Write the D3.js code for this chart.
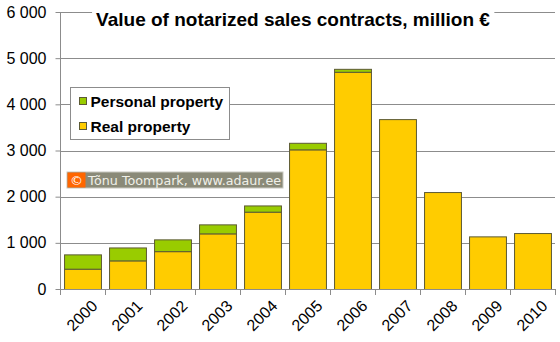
<!DOCTYPE html>
<html>
<head>
<meta charset="utf-8">
<script src="https://cdn.jsdelivr.net/npm/d3@7"></script>
<style>
  body { margin: 0; background: #fff; }
  svg { display: block; font-family: "Liberation Sans", Arial, sans-serif; }
</style>
</head>
<body>
<svg id="chart" width="560" height="342"></svg>
<script>
// chart data
var years = ["2000", "2001", "2002", "2003", "2004", "2005", "2006", "2007", "2008", "2009", "2010"];
var realProperty = [440, 620, 820, 1205, 1675, 3025, 4705, 3680, 2100, 1140, 1212];
var personalProperty = [310, 280, 255, 195, 135, 142, 64, 0, 0, 0, 0];
var yTicks = [0, 1000, 2000, 3000, 4000, 5000, 6000];

var margin = { top: 12, right: 5, bottom: 53, left: 60 };
var width = 560 - margin.left - margin.right;
var height = 342 - margin.top - margin.bottom;

var svg = d3.select("#chart");
var g = svg.append("g").attr("transform", "translate(" + margin.left + "," + margin.top + ")");

var x = d3.scaleBand().domain(years).range([0, width]).paddingInner(0.18).paddingOuter(0.09);
var y = d3.scaleLinear().domain([0, 6000]).range([height, 0]);

var fmt = function (d) { return d3.format(",")(d).replace(",", " "); };

// gridlines
g.selectAll(".grid").data(yTicks.slice(1)).enter().append("line")
    .attr("x1", 0).attr("x2", width)
    .attr("y1", function (d) { return Math.round(y(d)) + 0.5; })
    .attr("y2", function (d) { return Math.round(y(d)) + 0.5; })
    .attr("stroke", "#8c8c8c").attr("stroke-width", 1);

// stacked bars
var rows = years.map(function (yr, i) { return { year: yr, real: realProperty[i], personal: personalProperty[i] }; });
var stack = d3.stack().keys(["real", "personal"])(rows);
var colors = { real: "#ffcc00", personal: "#99cc00" };

stack.forEach(function (layer) {
    g.selectAll(".bar-" + layer.key).data(layer.filter(function (d) { return d[1] > d[0]; })).enter().append("rect")
        .attr("x", function (d) { return x(d.data.year) + 0.5; })
        .attr("y", function (d) { return y(d[1]) + 0.5; })
        .attr("width", x.bandwidth())
        .attr("height", function (d) { return y(d[0]) - y(d[1]); })
        .attr("fill", colors[layer.key])
        .attr("stroke", "#5c5a34").attr("stroke-width", 1);
});

// y axis
var yAxis = g.append("g").attr("transform", "translate(0.5,0)")
    .call(d3.axisLeft(y).tickValues(yTicks).tickSize(5).tickPadding(9).tickFormat(fmt));
yAxis.select(".domain").attr("stroke", "#8c8c8c").attr("d", "M0," + (height + 5) + "V0");
yAxis.selectAll(".tick line").attr("stroke", "#8c8c8c");
yAxis.selectAll("text").attr("font-size", 16).attr("fill", "#000")
    .attr("font-family", "'Liberation Sans', Arial, sans-serif");

// x axis
var xAxis = g.append("g").attr("transform", "translate(0," + (Math.round(height) + 0.5) + ")")
    .call(d3.axisBottom(x).tickSize(0).tickFormat(""));
xAxis.select(".domain").attr("stroke", "#8c8c8c").attr("d", "M0,0H" + width);
g.selectAll(".xtick").data(years.concat(["end"])).enter().append("line")
    .attr("x1", function (d, i) { return Math.round(i * width / years.length) + 0.5; })
    .attr("x2", function (d, i) { return Math.round(i * width / years.length) + 0.5; })
    .attr("y1", height).attr("y2", height + 6)
    .attr("stroke", "#8c8c8c");

g.selectAll(".xlabel").data(years).enter().append("text")
    .attr("transform", function (d) { return "translate(" + (x(d) + x.bandwidth() / 2 + 8) + "," + (height + 10) + ") rotate(-45)"; })
    .attr("text-anchor", "end")
    .attr("dy", "0.7em")
    .attr("font-size", 16)
    .text(function (d) { return d; });

// title
var titleBg = svg.append("rect").attr("fill", "#fff");
var title = svg.append("text")
    .attr("x", 293).attr("y", 26)
    .attr("text-anchor", "middle")
    .attr("font-size", 19).attr("font-weight", "bold")
    .text("Value of notarized sales contracts, million \u20ac");
var tb = title.node().getBBox();
titleBg.attr("x", tb.x - 4).attr("y", 4).attr("width", tb.width + 8).attr("height", 24);

// legend
var legendItems = [{ key: "personal", label: "Personal property" }, { key: "real", label: "Real property" }];
var legend = svg.append("g").attr("transform", "translate(70.5,87.5)");
legend.append("rect").attr("width", 159).attr("height", 52)
    .attr("fill", "#fff").attr("stroke", "#8c8c8c");
legendItems.forEach(function (it, i) {
    legend.append("rect").attr("x", 9).attr("y", 10 + i * 25).attr("width", 7).attr("height", 7)
        .attr("fill", colors[it.key]).attr("stroke", "#5c5a34");
    legend.append("text").attr("x", 20).attr("y", 19.5 + i * 25)
        .attr("font-size", 15.5).attr("font-weight", "bold").text(it.label);
});

// copyright badge
var badge = svg.append("g").attr("transform", "translate(67,172)");
badge.append("rect").attr("width", 216).attr("height", 16).attr("fill", "#8a8a78").attr("stroke", "#c8c8c0");
badge.append("rect").attr("x", 0.5).attr("y", 0.5).attr("width", 18).attr("height", 15).attr("fill", "#ff6600");
badge.append("text").attr("x", 9.5).attr("y", 12.5).attr("text-anchor", "middle")
    .attr("font-size", 13).attr("fill", "#fff").attr("font-family", "'DejaVu Sans', Verdana, sans-serif").text("\u00a9");
badge.append("text").attr("x", 21).attr("y", 12.5)
    .attr("font-size", 13).attr("fill", "#f0f0e8").attr("font-family", "'DejaVu Sans', Verdana, sans-serif")
    .attr("textLength", 193).attr("lengthAdjust", "spacingAndGlyphs")
    .text("T\u00f5nu Toompark, www.adaur.ee");
</script>
</body>
</html>
